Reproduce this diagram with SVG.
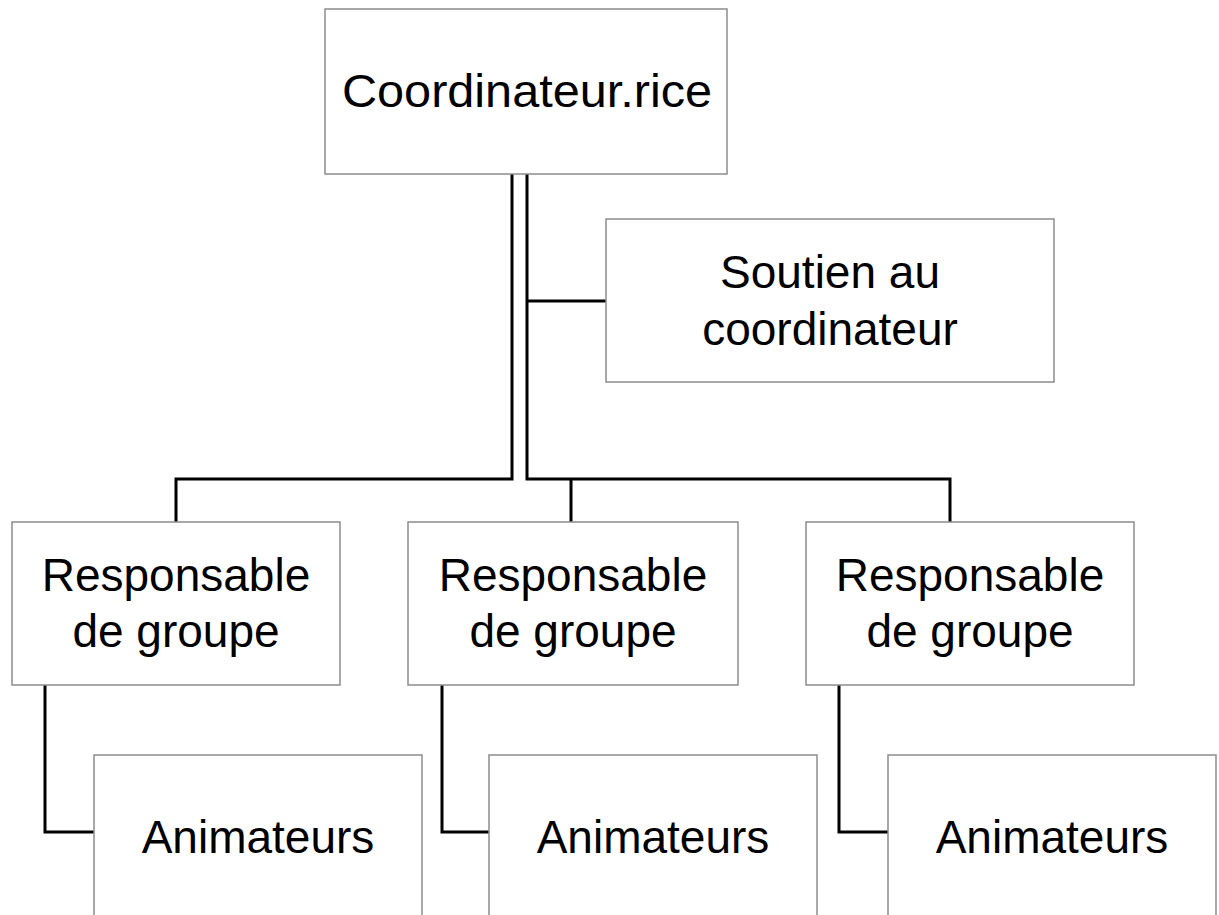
<svg xmlns="http://www.w3.org/2000/svg" width="1219" height="915" viewBox="0 0 1219 915">
<style>
.box{fill:#fff;stroke:#8c8c8c;stroke-width:1.5}
.lbl{font-family:"Liberation Sans",Arial,sans-serif;font-size:46px;fill:#000;text-anchor:middle}
.con{fill:none;stroke:#000;stroke-width:3}
</style>
<rect width="1219" height="915" fill="#fff"/>
<g id="connectors">
<path class="con" d="M512 174 V479 H176 V522"/>
<path class="con" d="M527 174 V479 H950 V522 M571 479 V522"/>
<path class="con" d="M527 301 H606"/>
<path class="con" d="M45 685 V832 H94"/>
<path class="con" d="M442 685 V832 H489"/>
<path class="con" d="M839 685 V832 H888"/>
</g>
<g id="coord">
<rect class="box" x="325" y="9" width="402" height="165"/>
<text class="lbl" x="527" y="107" textLength="370" lengthAdjust="spacingAndGlyphs">Coordinateur.rice</text>
</g>
<g id="soutien">
<rect class="box" x="606" y="219" width="448" height="163"/>
<text class="lbl" x="830" y="288">Soutien au</text>
<text class="lbl" x="830" y="345">coordinateur</text>
</g>
<g id="resp1">
<rect class="box" x="12" y="522" width="328" height="163"/>
<text class="lbl" x="176" y="591">Responsable</text>
<text class="lbl" x="176" y="647">de groupe</text>
</g>
<g id="resp2">
<rect class="box" x="408" y="522" width="330" height="163"/>
<text class="lbl" x="573" y="591">Responsable</text>
<text class="lbl" x="573" y="647">de groupe</text>
</g>
<g id="resp3">
<rect class="box" x="806" y="522" width="328" height="163"/>
<text class="lbl" x="970" y="591">Responsable</text>
<text class="lbl" x="970" y="647">de groupe</text>
</g>
<g id="anim1">
<rect class="box" x="94" y="755" width="328" height="180"/>
<text class="lbl" x="258" y="853">Animateurs</text>
</g>
<g id="anim2">
<rect class="box" x="489" y="755" width="328" height="180"/>
<text class="lbl" x="653" y="853">Animateurs</text>
</g>
<g id="anim3">
<rect class="box" x="888" y="755" width="328" height="180"/>
<text class="lbl" x="1052" y="853">Animateurs</text>
</g>
</svg>
